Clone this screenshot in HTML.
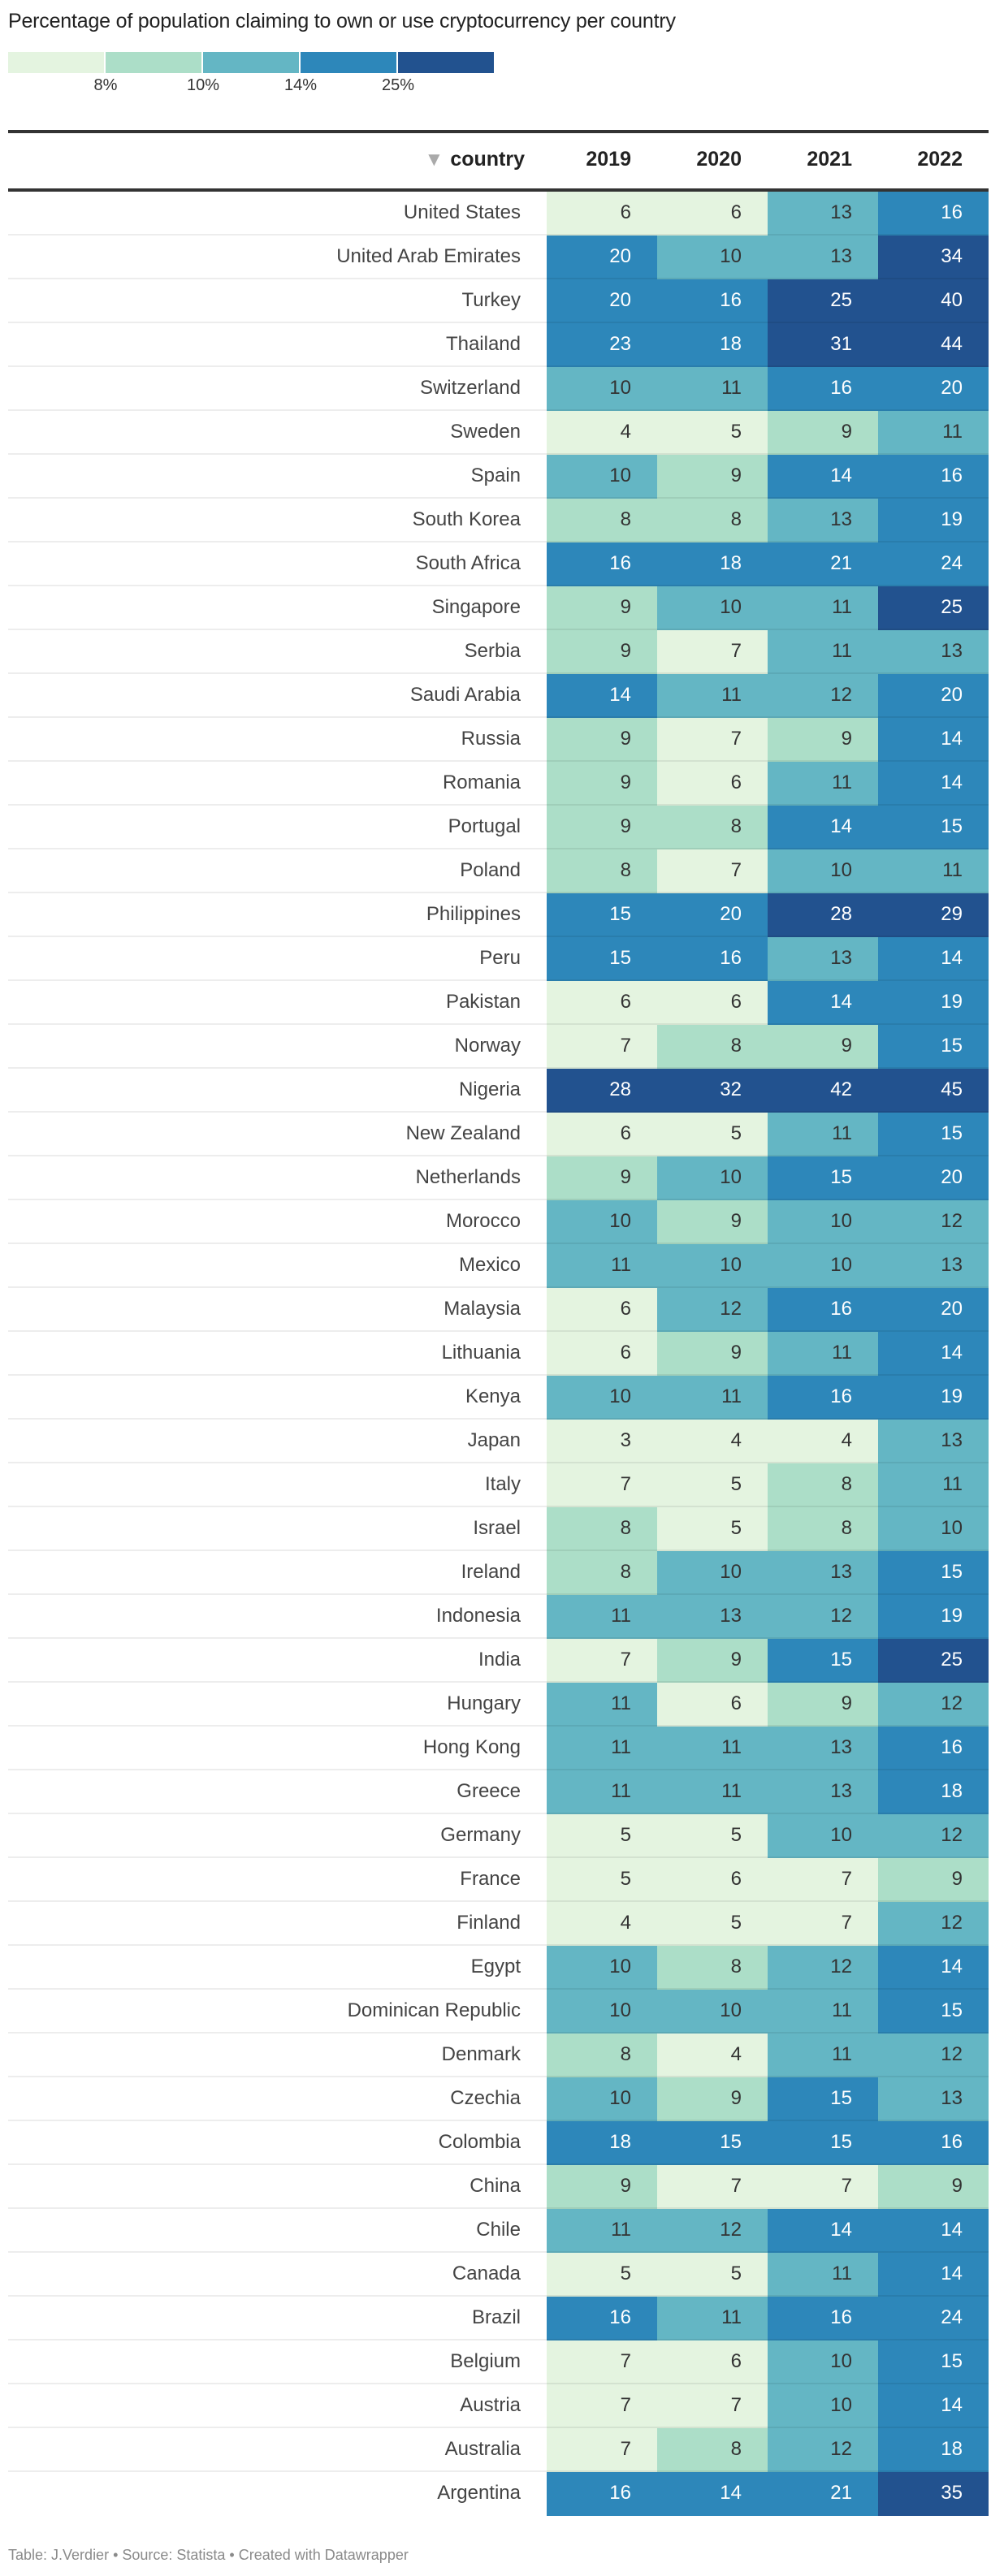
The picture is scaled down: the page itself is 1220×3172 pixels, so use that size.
<!DOCTYPE html>
<html><head><meta charset="utf-8">
<style>
body{margin:0;background:#fff;width:1220px;height:3172px;overflow:hidden;font-family:"Liberation Sans",sans-serif;position:relative;}
.abs{position:absolute;}
#title{left:10px;top:12px;font-size:25px;color:#222;letter-spacing:-0.2px;}
.leg{top:64px;height:26px;width:118px;}
.legl{top:94px;font-size:20px;color:#333;width:60px;text-align:center;}
.rule{left:10px;width:1207px;background:#333;}
.hd{top:182px;font-size:25px;font-weight:bold;color:#222;text-align:right;}
.row{left:10px;width:1207px;height:54px;}
.sep{position:absolute;left:0;width:1207px;height:2px;bottom:0;background:rgba(0,0,0,0.07);}
.name{position:absolute;right:576px;top:0;line-height:52px;font-size:24px;color:#444;white-space:nowrap;}
.cell{position:absolute;top:0;height:54px;width:136px;text-align:right;box-sizing:border-box;padding-right:32px;line-height:52px;font-size:24px;}
#foot{left:10px;top:3136px;font-size:18px;color:#8a8a8a;}
</style></head><body>
<div id="title" class="abs">Percentage of population claiming to own or use cryptocurrency per country</div>
<div id="legend"></div>
<div class="abs rule" style="top:160px;height:4px"></div>
<div class="abs hd" style="left:480px;width:166px"><span style="color:#aaa;font-size:24px;font-weight:normal;margin-right:8px">▼</span>country</div>
<div id="years"></div>
<div class="abs rule" style="top:232px;height:4px"></div>
<div id="rows"></div>
<div id="foot" class="abs">Table: J.Verdier • Source: Statista • Created with Datawrapper</div>
<script>
const years=["2019","2020","2021","2022"];
const countries=["United States","United Arab Emirates","Turkey","Thailand","Switzerland","Sweden","Spain","South Korea","South Africa","Singapore","Serbia","Saudi Arabia","Russia","Romania","Portugal","Poland","Philippines","Peru","Pakistan","Norway","Nigeria","New Zealand","Netherlands","Morocco","Mexico","Malaysia","Lithuania","Kenya","Japan","Italy","Israel","Ireland","Indonesia","India","Hungary","Hong Kong","Greece","Germany","France","Finland","Egypt","Dominican Republic","Denmark","Czechia","Colombia","China","Chile","Canada","Brazil","Belgium","Austria","Australia","Argentina"];
const v2019=[6,20,20,23,10,4,10,8,16,9,9,14,9,9,9,8,15,15,6,7,28,6,9,10,11,6,6,10,3,7,8,8,11,7,11,11,11,5,5,4,10,10,8,10,18,9,11,5,16,7,7,7,16];
const v2020=[6,10,16,18,11,5,9,8,18,10,7,11,7,6,8,7,20,16,6,8,32,5,10,9,10,12,9,11,4,5,5,10,13,9,6,11,11,5,6,5,8,10,4,9,15,7,12,5,11,6,7,8,14];
const v2021=[13,13,25,31,16,9,14,13,21,11,11,12,9,11,14,10,28,13,14,9,42,11,15,10,10,16,11,16,4,8,8,13,12,15,9,13,13,10,7,7,12,11,11,15,15,7,14,11,16,10,10,12,21];
const v2022=[16,34,40,44,20,11,16,19,24,25,13,20,14,14,15,11,29,14,19,15,45,15,20,12,13,20,14,19,13,11,10,15,19,25,12,16,18,12,9,12,14,15,12,13,16,9,14,14,24,15,14,18,35];
const thresholds=[8,10,14,25];
const legendLabels=["8%","10%","14%","25%"];
const colors=["#e4f4e0","#acdec8","#64b6c4","#2d87ba","#22528f"];
function colorIdx(v){let i=0;while(i<thresholds.length&&v>=thresholds[i])i++;return i;}
const lg=document.getElementById('legend');
colors.forEach((c,i)=>{const d=document.createElement('div');d.className='abs leg';d.style.left=(10+i*120)+'px';d.style.background=c;


lg.appendChild(d);});
legendLabels.forEach((t,i)=>{const d=document.createElement('div');d.className='abs legl';d.style.left=(10+(i+1)*120-30)+'px';d.textContent=t;


lg.appendChild(d);});
const X0=673,CW=136;
const yd=document.getElementById('years');
years.forEach((y,i)=>{const d=document.createElement('div');d.className='abs hd';d.style.left=(X0+i*CW)+'px';d.style.width=(CW-32)+'px';d.textContent=y;


yd.appendChild(d);});
const series=[v2019,v2020,v2021,v2022];
const rows=document.getElementById('rows');
countries.forEach((c,r)=>{const row=document.createElement('div');row.className='abs row';row.style.top=(236+r*54)+'px';


const n=document.createElement('div');n.className='name';n.textContent=c;


row.appendChild(n);
series.forEach((s,i)=>{const v=s[r];const ci=colorIdx(v);const cell=document.createElement('div');cell.className='cell';
cell.style.left=(X0-10+i*CW)+'px';cell.style.background=colors[ci];cell.style.color=ci>=3?'#fff':'#333';cell.textContent=v;


row.appendChild(cell);});
if(r<countries.length-1){const s=document.createElement('div');s.className='sep';


row.appendChild(s);}
rows.appendChild(row);});
</script>
</body></html>
